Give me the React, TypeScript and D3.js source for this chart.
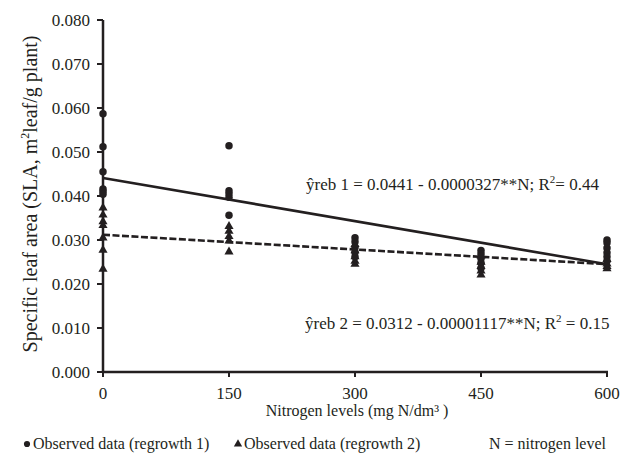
import React from "react";
import * as d3 from "d3";

const nitrogenLevels = [0, 150, 300, 450, 600];
const yTicks = [0, 0.01, 0.02, 0.03, 0.04, 0.05, 0.06, 0.07, 0.08];

// Observed SLA, regrowth 1 (circles)
const regrowth1: [number, number][] = [
  [0, 0.0587], [0, 0.0512], [0, 0.0455], [0, 0.0416], [0, 0.041], [0, 0.0404],
  [150, 0.0514], [150, 0.0412], [150, 0.0405], [150, 0.0397], [150, 0.0356],
  [300, 0.0305], [300, 0.0296], [300, 0.0283], [300, 0.0272], [300, 0.0262],
  [450, 0.0276], [450, 0.0268], [450, 0.0258], [450, 0.0248], [450, 0.0236],
  [600, 0.0300], [600, 0.0294], [600, 0.0282], [600, 0.0271], [600, 0.0262], [600, 0.0252],
];

// Observed SLA, regrowth 2 (triangles)
const regrowth2: [number, number][] = [
  [0, 0.0373], [0, 0.0357], [0, 0.0342], [0, 0.0333], [0, 0.0305], [0, 0.0277], [0, 0.0234],
  [150, 0.0331], [150, 0.0320], [150, 0.0308], [150, 0.0298], [150, 0.0273],
  [300, 0.0290], [300, 0.0276], [300, 0.0262], [300, 0.0252], [300, 0.0245],
  [450, 0.0264], [450, 0.0250], [450, 0.0240], [450, 0.0230], [450, 0.0221],
  [600, 0.0256], [600, 0.0246], [600, 0.0240], [600, 0.0235],
];

const fit1 = { a: 0.0441, b: 0.0000327 };
const fit2 = { a: 0.0312, b: 0.00001117 };

const ink = "#231f20";
const font = "'Liberation Serif', 'Times New Roman', serif";

export default function App() {
  const W = 628, H = 458;
  const x = d3.scaleLinear().domain([0, 600]).range([103, 607]);
  const y = d3.scaleLinear().domain([0, 0.08]).range([372, 20]);
  const fmt = d3.format(".3f");

  const line = d3.line<[number, number]>().x(d => x(d[0])).y(d => y(d[1]));
  const l1: [number, number][] = [0, 600].map(n => [n, fit1.a - fit1.b * n]);
  const l2: [number, number][] = [0, 600].map(n => [n, fit2.a - fit2.b * n]);

  const tri = d3.symbol().type(d3.symbolTriangle).size(36)() as string;
  const circ = d3.symbol().type(d3.symbolCircle).size(44)() as string;

  return (
    <svg width={W} height={H} style={{ position: "absolute", left: 0, top: 0, display: "block", background: "#fff" }} fontFamily={font}>
      {/* regression lines */}
      <path d={line(l1) as string} stroke={ink} strokeWidth={2.6} fill="none" />
      <path d={line(l2) as string} stroke={ink} strokeWidth={2.6} fill="none" strokeDasharray="7,2.5" />

      {/* axes */}
      <line x1={x(0)} x2={x(0)} y1={y(0.08)} y2={y(0)} stroke={ink} strokeWidth={2.5} />
      <line x1={x(0) - 1} x2={x(600) + 1} y1={y(0)} y2={y(0)} stroke={ink} strokeWidth={2.5} />
      {yTicks.map(t => (
        <g key={t}>
          <line x1={x(0) - 6} x2={x(0)} y1={y(t)} y2={y(t)} stroke={ink} strokeWidth={2} />
          <text x={90} y={y(t)} dy="0.33em" textAnchor="end" fontSize={17} fill={ink}>{fmt(t)}</text>
        </g>
      ))}
      {nitrogenLevels.map(t => (
        <g key={t}>
          <line x1={x(t)} x2={x(t)} y1={y(0)} y2={y(0) + 5} stroke={ink} strokeWidth={2} />
          <text x={x(t)} y={399} textAnchor="middle" fontSize={17} fill={ink}>{t}</text>
        </g>
      ))}

      {/* data points */}
      {regrowth1.map((d, i) => (
        <path key={"c" + i} d={circ} transform={`translate(${x(d[0])},${y(d[1])})`} fill={ink} />
      ))}
      {regrowth2.map((d, i) => (
        <path key={"t" + i} d={tri} transform={`translate(${x(d[0])},${y(d[1])})`} fill={ink} />
      ))}

      {/* axis titles */}
      <text x={357} y={416} textAnchor="middle" fontSize={16} fill={ink}>
        Nitrogen levels (mg N/dm³ )
      </text>
      <text transform="translate(37,194) rotate(-90)" textAnchor="middle" fontSize={20} fill={ink}>
        Specific leaf area (SLA, m<tspan fontSize={12} dy={-8}>2</tspan><tspan dy={8}>leaf/g plant)</tspan>
      </text>

      {/* equations */}
      <text x={306} y={190} fontSize={17} fill={ink}>
        ŷreb 1 = 0.0441 - 0.0000327**N; R<tspan fontSize={11} dy={-7}>2</tspan><tspan dy={7}>= 0.44</tspan>
      </text>
      <text x={305} y={329} fontSize={17} fill={ink}>
        ŷreb 2 = 0.0312 - 0.00001117**N; R<tspan fontSize={11} dy={-7}>2</tspan><tspan dy={7}> = 0.15</tspan>
      </text>

      {/* legend */}
      <path d={d3.symbol().type(d3.symbolCircle).size(30)() as string} transform="translate(27,444)" fill={ink} />
      <text x={33} y={449} fontSize={16} fill={ink}>Observed data (regrowth 1)</text>
      <path d={d3.symbol().type(d3.symbolTriangle).size(30)() as string} transform="translate(238,444)" fill={ink} />
      <text x={244} y={449} fontSize={16} fill={ink}>Observed data (regrowth 2)</text>
      <text x={606} y={449} textAnchor="end" fontSize={16} fill={ink}>N = nitrogen level</text>
    </svg>
  );
}
